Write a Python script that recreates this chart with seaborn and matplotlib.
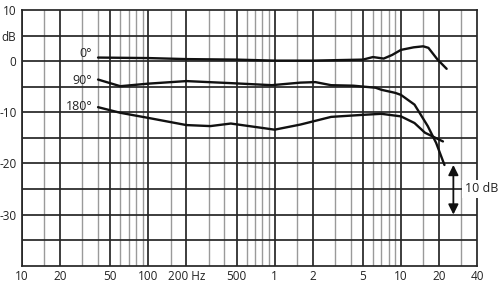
import matplotlib
matplotlib.use("Agg")
import matplotlib.pyplot as plt
import seaborn as sns
import numpy as np
import pandas as pd

# ---- data ----
freq_0 = [40, 100, 200, 500, 1000, 2000, 5000, 6000, 7300, 8500, 10000, 12600, 15000, 16500, 19500, 23000]
db_0 = [0.7, 0.6, 0.4, 0.3, 0.1, 0.1, 0.3, 0.8, 0.5, 1.2, 2.2, 2.7, 2.9, 2.6, 0.3, -1.5]

freq_90 = [40, 60, 100, 200, 450, 950, 1600, 2100, 2800, 4200, 6300, 7000, 9000, 10000, 12800, 16300, 19000, 22100]
db_90 = [-3.6, -4.9, -4.4, -3.9, -4.3, -4.7, -4.2, -4.1, -4.7, -4.8, -5.2, -5.6, -6.2, -6.6, -8.5, -12.7, -16.0, -20.3]

freq_180 = [40, 60, 100, 200, 310, 450, 1000, 1600, 2800, 5000, 7000, 10000, 12800, 15500, 21500]
db_180 = [-9.0, -10.1, -11.1, -12.5, -12.7, -12.2, -13.4, -12.4, -10.9, -10.5, -10.3, -10.8, -12.1, -14.0, -15.7]

curve_labels = ["0°", "90°", "180°"]
x_ticks = [10, 20, 50, 100, 200, 500, 1000, 2000, 5000, 10000, 20000, 40000]
x_ticklabels = ["10", "20", "50", "100", "200 Hz", "500", "1", "2", "5", "10", "20", "40"]
y_ticks = [10, 5, 0, -10, -20, -30]
y_ticklabels = ["10", "dB", "0", "-10", "-20", "-30"]

df = pd.concat([
    pd.DataFrame({"f": freq_0, "db": db_0, "curve": curve_labels[0]}),
    pd.DataFrame({"f": freq_90, "db": db_90, "curve": curve_labels[1]}),
    pd.DataFrame({"f": freq_180, "db": db_180, "curve": curve_labels[2]}),
])

sns.set_theme(style="white")
plt.rcParams["font.family"] = ["Open Sans", "DejaVu Sans"]

fig = plt.figure(figsize=(5.0, 2.89), dpi=100)
ax = fig.add_axes([0.044, 0.0806, 0.910, 0.8848])
ax.set_xscale("log")
ax.set_xlim(10, 40000)
ax.set_ylim(-40, 10)

dark = "#262626"
light = "#9a9a9a"
# vertical grid
for dec in [10, 100, 1000, 10000]:
    for m in range(1, 10):
        f = dec * m
        if f < 10 or f > 40000:
            continue
        if m in (1, 2, 5):
            ax.axvline(f, color=dark, lw=1.25, zorder=1)
        else:
            ax.axvline(f, color=light, lw=1.0, zorder=1)
    ax.axvline(dec * 1.5, color=light, lw=1.0, zorder=1)
for y in range(-35, 10, 5):
    ax.axhline(y, color=dark, lw=1.25, zorder=1)

for sp in ax.spines.values():
    sp.set_color(dark)
    sp.set_linewidth(1.25)

sns.lineplot(data=df, x="f", y="db", units="curve", estimator=None, sort=False,
             color="#111111", lw=1.7, ax=ax, legend=False, zorder=3)

ax.set_xticks(x_ticks)
ax.set_xticklabels(x_ticklabels)
ax.xaxis.set_minor_locator(matplotlib.ticker.NullLocator())
ax.set_yticks(y_ticks)
ax.set_yticklabels(y_ticklabels)
ax.tick_params(axis="both", length=0, labelsize=8.5, colors="#222222")
ax.tick_params(axis="x", pad=3)
ax.tick_params(axis="y", pad=4)
ax.set_xlabel("")
ax.set_ylabel("")

# curve labels
for lab, y in zip(curve_labels, [1.5, -3.8, -8.8]):
    ax.text(36, y, lab, ha="right", va="center", fontsize=9, color="#222222", zorder=4)

# 10 dB scale arrow
ax.annotate("", xy=(26000, -20.3), xytext=(26000, -30),
            arrowprops=dict(arrowstyle="<|-|>", color="#111111", lw=1.3,
                            mutation_scale=15, shrinkA=0, shrinkB=0), zorder=5)
ax.text(32000, -25, "10 dB", ha="left", va="center", fontsize=9, color="#222222",
        bbox=dict(facecolor="white", edgecolor="none", pad=2.0), zorder=6, clip_on=False)

fig.savefig("out.png", dpi=100)
